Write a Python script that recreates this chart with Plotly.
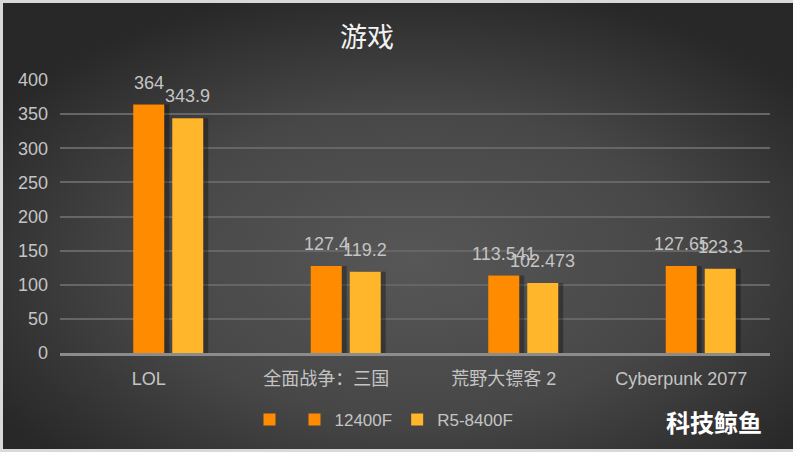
import base64
import plotly.graph_objects as go

categories = ["LOL", "全面战争：三国", "荒野大镖客 2", "Cyberpunk 2077"]
series_names = ["", "12400F", "R5-8400F"]
values_blank = [None, None, None, None]
values_12400f = [364, 127.4, 113.541, 127.65]
values_r5 = [343.9, 119.2, 102.473, 123.3]
value_labels_12400f = ["364", "127.4", "113.541", "127.65"]
value_labels_r5 = ["343.9", "119.2", "102.473", "123.3"]
y_ticks = [0, 50, 100, 150, 200, 250, 300, 350, 400]

W, H = 793, 452
ML, MR, MT, MB = 60, 23, 80, 99
PW, PH = W - ML - MR, H - MT - MB

ORANGE = "#FF8C00"
YELLOW = "#FFB62A"
LABEL = "#C4C4C4"
FONT = "Liberation Sans, Arial, Noto Sans CJK SC, sans-serif"

# bar geometry in category units (1 unit = one category slot)
cat_px = PW / len(categories)
bar_w = 31 / cat_px
slot = 39 / cat_px
off_a = -bar_w / 2
off_b = slot - bar_w / 2
sh = 5 / cat_px

svg = f'''<svg xmlns="http://www.w3.org/2000/svg" width="{W}" height="{H}" viewBox="0 0 {W} {H}" preserveAspectRatio="none">
<defs><radialGradient id="g" cx="52%" cy="58%" r="62%">
<stop offset="0" stop-color="#575757"/><stop offset="0.55" stop-color="#474747"/>
<stop offset="1" stop-color="#282828"/></radialGradient></defs>
<rect x="0" y="0" width="{W}" height="{H}" fill="url(#g)"/>
<path d="M{W} 1.5 L1.5 1.5 L1.5 {H-1.5} L{W} {H-1.5}" fill="none" stroke="#D9D9D9" stroke-width="3"/>
</svg>'''
src = "data:image/svg+xml;base64," + base64.b64encode(svg.encode()).decode()

fig = go.Figure()

# shadows
for vals, off in [(values_12400f, off_a), (values_r5, off_b)]:
    fig.add_trace(go.Bar(x=categories, y=vals, offset=off + sh, width=bar_w,
                         marker=dict(color="rgba(0,0,0,0.3)", line=dict(width=0)),
                         showlegend=False, hoverinfo="skip"))

fig.add_trace(go.Bar(x=categories, y=values_blank, name=series_names[0],
                     offset=off_a - slot, width=bar_w,
                     marker=dict(color=ORANGE, line=dict(width=0))))
fig.add_trace(go.Bar(x=categories, y=values_12400f, name=series_names[1],
                     offset=off_a, width=bar_w,
                     marker=dict(color=ORANGE, line=dict(width=0))))
fig.add_trace(go.Bar(x=categories, y=values_r5, name=series_names[2],
                     offset=off_b, width=bar_w,
                     marker=dict(color=YELLOW, line=dict(width=0))))

annotations = []
for cat, v, t in zip(categories, values_12400f, value_labels_12400f):
    annotations.append(dict(x=cat, y=v, text=t, showarrow=False, xref="x", yref="y",
                            xshift=0, yshift=22, yanchor="middle",
                            font=dict(size=18, color=LABEL, family=FONT)))
for cat, v, t in zip(categories, values_r5, value_labels_r5):
    annotations.append(dict(x=cat, y=v, text=t, showarrow=False, xref="x", yref="y",
                            xshift=slot * cat_px, yshift=22, yanchor="middle",
                            font=dict(size=18, color=LABEL, family=FONT)))
annotations.append(dict(x=(714 - ML) / PW, y=(H - MB - 421) / PH, xref="paper", yref="paper",
                        text="<b>科技鲸鱼</b>", showarrow=False, xanchor="center", yanchor="middle",
                        font=dict(size=24, color="#FFFFFF", family="Noto Sans CJK SC")))

fig.update_layout(
    width=W, height=H,
    margin=dict(l=ML, r=MR, t=MT, b=MB),
    barmode="overlay",
    paper_bgcolor="#3a3a3a",
    plot_bgcolor="rgba(0,0,0,0)",
    title=dict(text="游戏", x=367 / W, xanchor="center", y=1 - 38 / H, yanchor="middle",
               font=dict(size=27, color="#F2F2F2", family="Noto Sans CJK SC")),
    font=dict(family=FONT, color=LABEL, size=18),
    legend=dict(orientation="h", x=(384 - ML) / PW, xanchor="center",
                y=(H - MB - 420) / PH, yanchor="middle",
                font=dict(size=17, color=LABEL, family=FONT),
                bgcolor="rgba(0,0,0,0)", itemwidth=30, tracegroupgap=0),
    annotations=annotations,
    images=[dict(source=src, xref="paper", yref="paper",
                 x=-ML / PW, y=(H - MB) / PH, sizex=W / PW, sizey=H / PH,
                 xanchor="left", yanchor="top", sizing="stretch", layer="below")],
    xaxis=dict(type="category", showgrid=False, showline=True, linecolor="#8C8C8C",
               linewidth=2.5, ticks="", tickfont=dict(size=18, color=LABEL, family=FONT),
               ticklabelstandoff=8, range=[-0.5, 3.5]),
    yaxis=dict(range=[0, 400], tickvals=y_ticks, showgrid=True, gridcolor="#666666",
               gridwidth=1.5, zeroline=False, showline=False, ticks="",
               tickfont=dict(size=18, color=LABEL, family=FONT), ticklabelstandoff=11),
    showlegend=True,
)

fig.write_html("out.html", config={"displayModeBar": False},
               post_script="document.body.style.margin='0';document.body.style.padding='0';")
